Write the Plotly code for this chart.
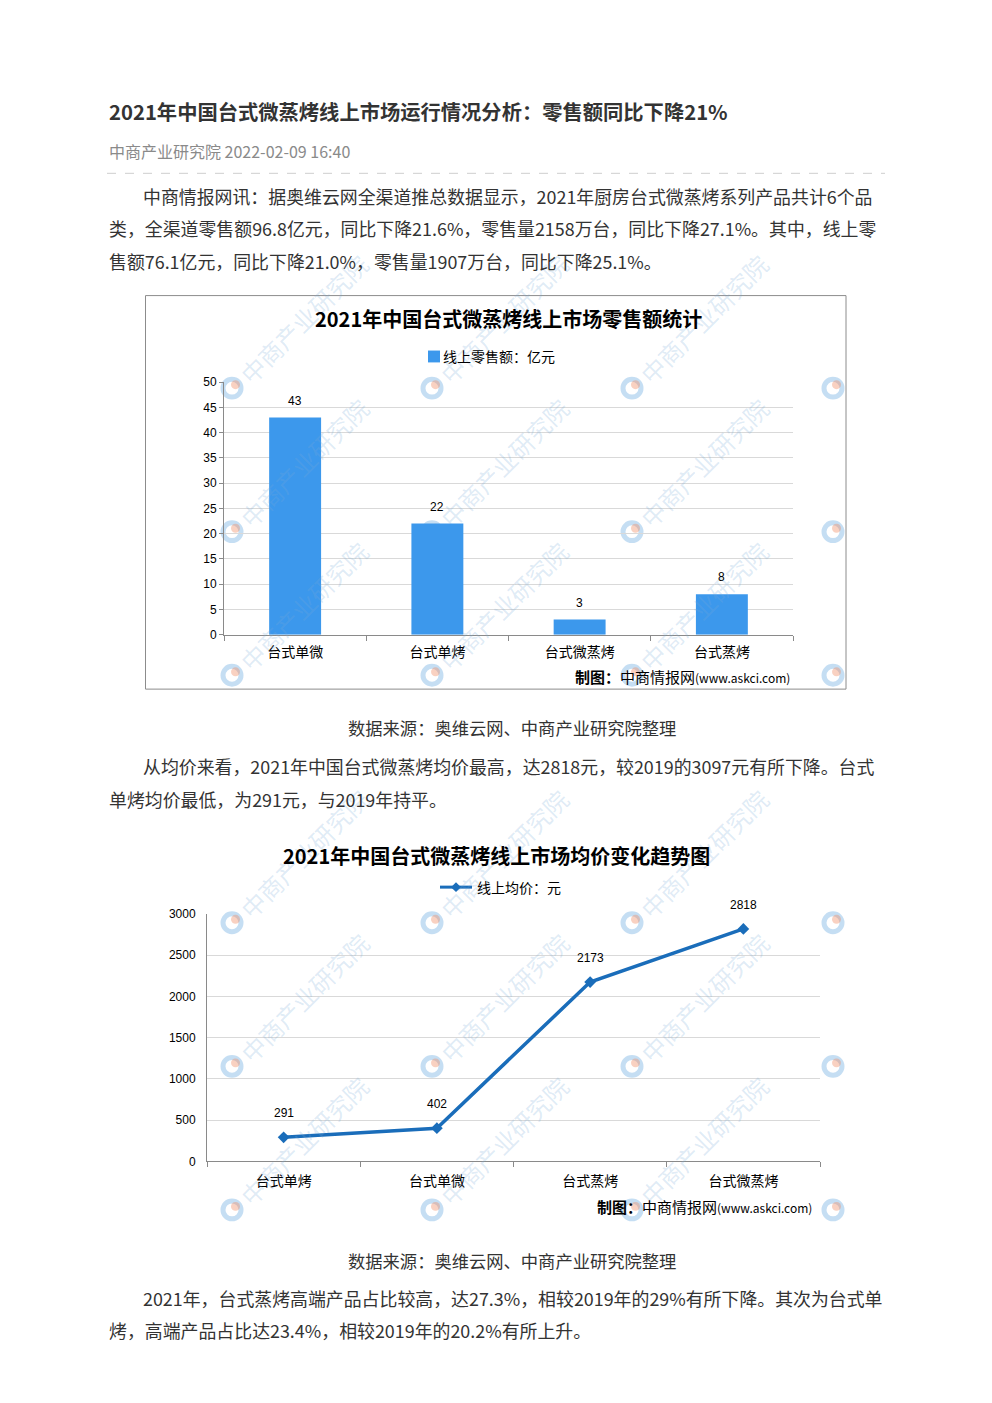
import plotly.graph_objects as go

W, H = 992, 1403


def px(x):
    return x / W


def py(y):
    return 1 - y / H


FONT = "Noto Sans CJK SC"

# ---------------- data ----------------
sales_categories = ["台式单微", "台式单烤", "台式微蒸烤", "台式蒸烤"]
sales_values = [43, 22, 3, 8]
sales_yticks = [0, 5, 10, 15, 20, 25, 30, 35, 40, 45, 50]

price_categories = ["台式单烤", "台式单微", "台式蒸烤", "台式微蒸烤"]
price_values = [291, 402, 2173, 2818]
price_yticks = [0, 500, 1000, 1500, 2000, 2500, 3000]

article_title = "2021年中国台式微蒸烤线上市场运行情况分析：零售额同比下降21%"
article_meta = "中商产业研究院 2022-02-09 16:40"
para1 = [
    "中商情报网讯：据奥维云网全渠道推总数据显示，2021年厨房台式微蒸烤系列产品共计6个品",
    "类，全渠道零售额96.8亿元，同比下降21.6%，零售量2158万台，同比下降27.1%。其中，线上零",
    "售额76.1亿元，同比下降21.0%，零售量1907万台，同比下降25.1%。",
]
para2 = [
    "从均价来看，2021年中国台式微蒸烤均价最高，达2818元，较2019的3097元有所下降。台式",
    "单烤均价最低，为291元，与2019年持平。",
]
para3 = [
    "2021年，台式蒸烤高端产品占比较高，达27.3%，相较2019年的29%有所下降。其次为台式单",
    "烤，高端产品占比达23.4%，相较2019年的20.2%有所上升。",
]
source_text = "数据来源：奥维云网、中商产业研究院整理"
chart1_title = "2021年中国台式微蒸烤线上市场零售额统计"
chart1_legend = "线上零售额：亿元"
chart2_title = "2021年中国台式微蒸烤线上市场均价变化趋势图"
chart2_legend = "线上均价：元"
credit = "<b>制图：</b>中商情报网<span style='font-size:12px'>(www.askci.com)</span>"
watermark = "中商产业研究院"

BAR_COLOR = "#3C98EC"
LINE_COLOR = "#1A6DBA"
TEXT_COLOR = "#333333"

fig = go.Figure()

fig.add_trace(go.Bar(
    x=sales_categories, y=sales_values, xaxis="x", yaxis="y",
    marker=dict(color=BAR_COLOR, line=dict(width=0)), width=0.365,
    showlegend=False, hoverinfo="skip",
))

fig.add_trace(go.Scatter(
    x=price_categories, y=price_values, xaxis="x2", yaxis="y2",
    mode="lines+markers",
    line=dict(color=LINE_COLOR, width=3.5),
    marker=dict(symbol="diamond", size=9, color=LINE_COLOR),
    showlegend=False, hoverinfo="skip",
))

annotations = []
shapes = []

# ---------- watermarks (pale, decorative) ----------
wm_color = "rgba(120,170,215,0.24)"
logo_blue = "rgba(90,160,220,0.35)"
logo_orange = "rgba(240,140,100,0.40)"
for (lx, ly) in [(232, 385), (432, 385), (632, 385),
                 (232, 530), (432, 530), (632, 530),
                 (232, 675), (432, 675), (632, 675),
                 (232, 925), (432, 925), (632, 925),
                 (232, 1070), (432, 1070), (632, 1070),
                 (232, 1215), (432, 1215), (632, 1215)]:
    annotations.append(dict(
        x=px(lx + 72), y=py(ly - 70), xref="paper", yref="paper",
        xanchor="center", yanchor="middle",
        text=watermark, showarrow=False, textangle=-45,
        font=dict(family=FONT, size=24, color=wm_color),
    ))
for (lx, ly) in [(232, 385), (432, 385), (632, 385), (833, 385),
                 (232, 530), (432, 530), (632, 530), (833, 530),
                 (232, 675), (432, 675), (632, 675), (833, 675),
                 (232, 925), (432, 925), (632, 925), (833, 925),
                 (232, 1070), (432, 1070), (632, 1070), (833, 1070),
                 (232, 1215), (432, 1215), (632, 1215), (833, 1215)]:
    shapes.append(dict(type="circle", xref="paper", yref="paper",
                       x0=px(lx - 9), x1=px(lx + 9), y0=py(ly + 9), y1=py(ly - 9),
                       line=dict(color=logo_blue, width=5), layer="below"))
    shapes.append(dict(type="circle", xref="paper", yref="paper",
                       x0=px(lx - 1), x1=px(lx + 8), y0=py(ly + 1), y1=py(ly - 8),
                       fillcolor=logo_orange, line=dict(width=0), layer="below"))

# ---------------- article text ----------------
annotations.append(dict(
    x=px(107), y=py(105), xref="paper", yref="paper", xanchor="left", yanchor="middle",
    text="<b>" + article_title + "</b>", showarrow=False,
    font=dict(family=FONT, size=20.3, color="#333333"),
))
annotations.append(dict(
    x=px(107), y=py(145), xref="paper", yref="paper", xanchor="left", yanchor="middle",
    text=article_meta, showarrow=False,
    font=dict(family=FONT, size=16, color="#8a8a8a"),
))
shapes.append(dict(type="line", xref="paper", yref="paper",
                   x0=px(107), x1=px(885), y0=py(168), y1=py(168),
                   line=dict(color="#cfcfcf", width=1, dash="dash")))


def add_para(lines, y0, step=32.7):
    for i, line in enumerate(lines):
        x0 = 141 if i == 0 else 107
        annotations.append(dict(
            x=px(x0), y=py(y0 + i * step), xref="paper", yref="paper",
            xanchor="left", yanchor="middle", text=line, showarrow=False,
            font=dict(family=FONT, size=17.9, color=TEXT_COLOR),
        ))


add_para(para1, 191)
add_para(para2, 767)
add_para(para3, 1304)

for sy in (728, 1266):
    annotations.append(dict(
        x=px(512), y=py(sy), xref="paper", yref="paper", xanchor="center", yanchor="middle",
        text=source_text, showarrow=False,
        font=dict(family=FONT, size=17.3, color=TEXT_COLOR),
    ))

# ---------------- chart 1 decorations ----------------
shapes.append(dict(type="rect", xref="paper", yref="paper",
                   x0=px(145.5), x1=px(846), y0=py(689), y1=py(291.5),
                   line=dict(color="#8c8c8c", width=1)))
annotations.append(dict(
    x=px(508), y=py(315), xref="paper", yref="paper", xanchor="center", yanchor="middle",
    text="<b>" + chart1_title + "</b>", showarrow=False,
    font=dict(family=FONT, size=20, color="#000000"),
))
shapes.append(dict(type="rect", xref="paper", yref="paper",
                   x0=px(428), x1=px(440), y0=py(359), y1=py(347),
                   fillcolor=BAR_COLOR, line=dict(width=0)))
annotations.append(dict(
    x=px(441), y=py(353), xref="paper", yref="paper", xanchor="left", yanchor="middle",
    text=chart1_legend, showarrow=False,
    font=dict(family=FONT, size=14, color="#000000"),
))
for c, v in zip(sales_categories, sales_values):
    annotations.append(dict(
        x=c, y=v, xref="x", yref="y", text=str(v), showarrow=False,
        yanchor="middle", yshift=17,
        font=dict(family="Liberation Sans", size=12, color="#000000"),
    ))
annotations.append(dict(
    x=px(792), y=py(676), xref="paper", yref="paper", xanchor="right", yanchor="middle",
    text=credit, showarrow=False, font=dict(family=FONT, size=15, color="#000000"),
))

# ---------------- chart 2 decorations ----------------
annotations.append(dict(
    x=px(496), y=py(857), xref="paper", yref="paper", xanchor="center", yanchor="middle",
    text="<b>" + chart2_title + "</b>", showarrow=False,
    font=dict(family=FONT, size=20, color="#000000"),
))
shapes.append(dict(type="line", xref="paper", yref="paper",
                   x0=px(440), x1=px(472), y0=py(889), y1=py(889),
                   line=dict(color=LINE_COLOR, width=3)))
shapes.append(dict(type="path", xref="paper", yref="paper",
                   path="M {a},{b} L {c},{d} L {a},{e} L {f},{d} Z".format(
                       a=px(456), b=py(884), c=px(461), d=py(889), e=py(894), f=px(451)),
                   fillcolor=LINE_COLOR, line=dict(width=0)))
annotations.append(dict(
    x=px(475), y=py(889), xref="paper", yref="paper", xanchor="left", yanchor="middle",
    text=chart2_legend, showarrow=False,
    font=dict(family=FONT, size=14, color="#000000"),
))
for c, v in zip(price_categories, price_values):
    annotations.append(dict(
        x=c, y=v, xref="x2", yref="y2", text=str(v), showarrow=False,
        yanchor="middle", yshift=24,
        font=dict(family="Liberation Sans", size=12, color="#000000"),
    ))
annotations.append(dict(
    x=px(814), y=py(1212), xref="paper", yref="paper", xanchor="right", yanchor="middle",
    text=credit, showarrow=False, font=dict(family=FONT, size=15, color="#000000"),
))

axis_common = dict(fixedrange=True, zeroline=False)

fig.update_layout(
    width=W, height=H, autosize=False,
    margin=dict(l=0, r=0, t=0, b=0),
    paper_bgcolor="#ffffff", plot_bgcolor="rgba(0,0,0,0)",
    showlegend=False,
    xaxis=dict(domain=[px(224), px(793)], anchor="y", type="category",
               range=[-0.5, 3.5], showline=True, linecolor="#8a8a8a", linewidth=1,
               ticks="outside", ticklen=5, tickcolor="#8a8a8a", tickson="boundaries",
               ticklabelstandoff=5, showgrid=False,
               tickfont=dict(family=FONT, size=14, color="#000000"), **axis_common),
    yaxis=dict(domain=[py(634), py(379)], anchor="x", range=[0, 50],
               tickvals=sales_yticks, showgrid=True, gridcolor="#d9d9d9", gridwidth=1,
               showline=True, linecolor="#8a8a8a", linewidth=1,
               ticks="outside", ticklen=4, tickcolor="#8a8a8a",
               tickfont=dict(family="Liberation Sans", size=12, color="#000000"),
               **axis_common),
    xaxis2=dict(domain=[px(207), px(820)], anchor="y2", type="category",
                range=[-0.5, 3.5], showline=True, linecolor="#8a8a8a", linewidth=1,
                ticks="outside", ticklen=5, tickcolor="#8a8a8a", tickson="boundaries",
                ticklabelstandoff=7, showgrid=False,
                tickfont=dict(family=FONT, size=14, color="#000000"), **axis_common),
    yaxis2=dict(domain=[py(1166), py(916)], anchor="x2", range=[0, 3000],
                tickvals=price_yticks, showgrid=True, gridcolor="#d9d9d9", gridwidth=1,
                showline=True, linecolor="#8a8a8a", linewidth=1,
                ticks="outside", ticklen=8, tickcolor="rgba(0,0,0,0)",
                tickfont=dict(family="Liberation Sans", size=12, color="#000000"),
                **axis_common),
    annotations=annotations,
    shapes=shapes,
)

fig.write_html("out.html")
